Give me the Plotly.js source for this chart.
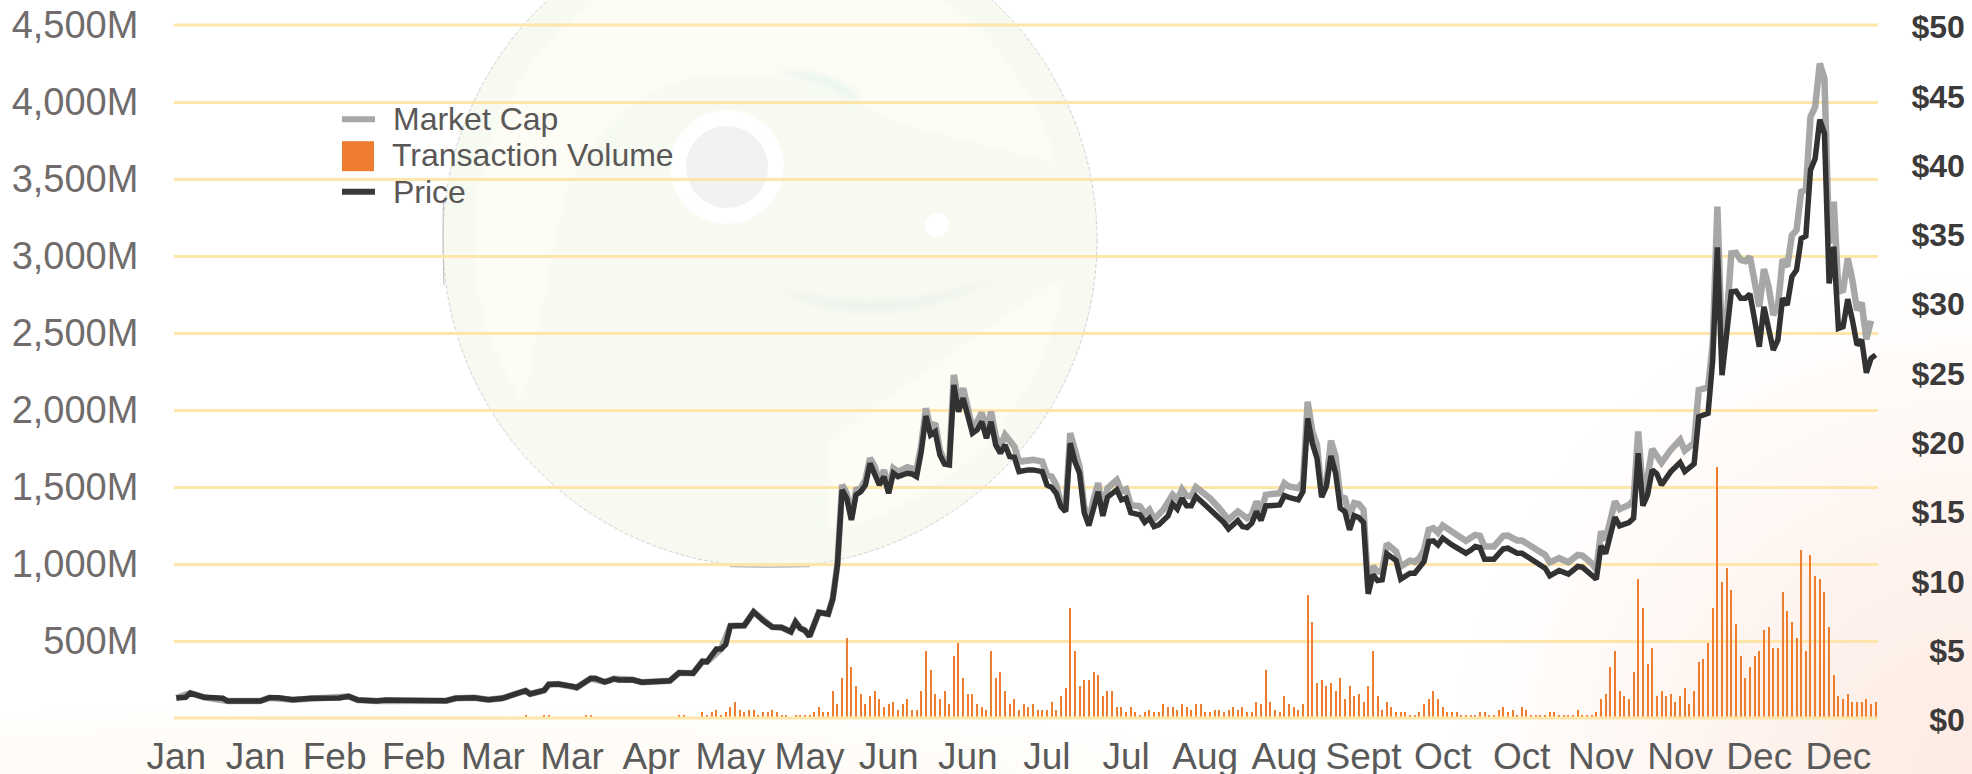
<!DOCTYPE html>
<html>
<head>
<meta charset="utf-8">
<script src="https://cdn.plot.ly/plotly-3.0.1.min.js"></script>
<style>
html,body{margin:0;padding:0;background:#fff;width:1972px;height:774px;overflow:hidden}
#bg{position:absolute;left:0;top:0;width:1972px;height:774px;
background:
 radial-gradient(ellipse 520px 500px at 100% 100%, #fdebe3 0%, #fef1eb 35%, #fff8f4 65%, rgba(255,255,255,0) 100%),
 radial-gradient(ellipse 900px 70px at 20% 100%, #fffbf5 0%, #fffdf9 70%, rgba(255,255,255,0) 100%),
 #fff}
#logo{position:absolute;left:0;top:0}
#chart{position:absolute;left:0;top:0;width:1972px;height:774px}
</style>
</head>
<body>
<div id="bg"></div>
<svg id="logo" width="1972" height="774" viewBox="0 0 1972 774">
 <defs>
  <clipPath id="c"><circle cx="770" cy="240" r="327"/></clipPath>
  <filter id="soft" x="-10%" y="-10%" width="120%" height="120%"><feGaussianBlur stdDeviation="3"/></filter>
  <filter id="soft2" x="-20%" y="-20%" width="140%" height="140%"><feGaussianBlur stdDeviation="1.2"/></filter>
 </defs>
 <circle cx="770" cy="240" r="327" fill="#f6faf0"/>
 <g clip-path="url(#c)">
  <g filter="url(#soft)">
   <circle cx="770" cy="240" r="297" fill="#fdfdf5"/>
   <path d="M523,403 C540,330 550,270 562,210 C585,130 650,78 720,75 C790,72 860,100 900,125 L1100,175 L1100,250 C1000,320 880,400 830,440 L825,570 L540,570 Z" fill="#f6faf0"/>
   <path d="M775,72 C820,66 855,85 862,105 C835,88 805,78 775,72 Z" fill="#eaf5ef"/>
   <path d="M775,285 C830,325 930,320 1000,275 C930,305 840,310 775,285 Z" fill="#eff3ed"/>
  </g>
  <circle cx="727" cy="167" r="57" fill="#fff" filter="url(#soft2)"/>
  <circle cx="727" cy="167" r="41" fill="#f2f2f2"/>
  <circle cx="937" cy="225" r="12" fill="#fff"/>
 </g>
 <circle cx="770" cy="240" r="327" fill="none" stroke="#d2d2d2" stroke-width="1" stroke-dasharray="4 2"/>
 <path d="M730,566.5 Q770,568 810,566.5" fill="none" stroke="#c6c6c6" stroke-width="1.5"/>
 <path d="M443.5,200 Q442.5,240 444,285" fill="none" stroke="#c6c6c6" stroke-width="1.2"/>
</svg>
<div id="chart"></div>
<script>
// ---- axis labels ----
const xTickLabels = ["Jan","Jan","Feb","Feb","Mar","Mar","Apr","May","May","Jun","Jun","Jul","Jul","Aug","Aug","Sept","Oct","Oct","Nov","Nov","Dec","Dec"];
const leftTickValues = [0,500,1000,1500,2000,2500,3000,3500,4000,4500];
const leftTickLabels = ["","500M","1,000M","1,500M","2,000M","2,500M","3,000M","3,500M","4,000M","4,500M"];
const rightTickValues = [0,5,10,15,20,25,30,35,40,45,50];
const rightTickLabels = ["\u2007$0","\u2007$5","$10","$15","$20","$25","$30","$35","$40","$45","$50"];
const dayCount = 366;
const tickEveryDays = 17;

// ---- series: [day index, value] ----
const pricePoints = [[0,1.44],[2,1.49],[3,1.80],[6,1.49],[10,1.42],[11,1.22],[18,1.22],[20,1.46],[22,1.46],[25,1.32],[29,1.42],[35,1.44],[37,1.56],[39,1.30],[43,1.22],[45,1.30],[58,1.25],[60,1.42],[64,1.46],[67,1.32],[70,1.42],[72,1.68],[73,1.75],[75,1.97],[76,1.73],[78,1.94],[79,1.99],[80,2.42],[82,2.45],[85,2.28],[86,2.2],[87,2.42],[89,2.85],[90,2.86],[92,2.6],[93,2.7],[94,2.83],[95,2.75],[96,2.76],[98,2.76],[100,2.58],[106,2.69],[108,3.27],[111,3.23],[113,4.08],[114,4.06],[116,4.97],[117,4.97],[118,5.3],[119,6.65],[122,6.68],[124,7.66],[126,7.04],[128,6.56],[130,6.53],[132,6.22],[133,6.92],[134,6.48],[135,6.32],[136,5.89],[138,7.62],[140,7.5],[141,8.6],[142,11.05],[143,16.46],
[144,15.85],[145,14.29],[146,16.1],[147,16.33],[148,16.8],[149,18.37],[150,17.66],[151,16.81],[152,17.41],[153,16.21],[154,17.66],[155,17.41],[157,17.66],[158,17.61],[159,17.41],[160,19.22],[161,21.79],[162,20.42],[163,20.66],[164,18.98],[165,18.33],[166,18.26],[167,24.03],[168,22.1],[169,23.07],[170,21.74],[171,20.54],[172,20.78],[173,21.38],[174,20.18],[175,21.38],[176,19.7],[177,19.1],[178,19.7],[179,18.86],[180,18.81],[181,17.78],[183,17.9],[184,17.9],[186,17.78],[187,16.81],[188,16.64],[189,16.21],[190,15.25],[191,14.89],[192,19.82],[193,18.5],[194,17.66],[195,14.82],[196,13.88],[197,15.25],[198,16.33],[199,14.58],[200,15.93],[202,16.46],[203,15.74],[204,15.86],[205,14.82],[207,14.65],[208,14.12],[209,14.41],[210,13.81],[211,13.93],[213,14.58],[214,15.44],[215,15.08],[216,15.85],[217,15.32],[218,15.32],[219,15.98],[221,15.37],[222,15.08],[224,14.41],[225,14.1],[226,13.64],[228,14.25],[229,13.81],[230,13.74],[231,14.05],[232,14.89],[233,14.25],[234,15.3],[237,15.37],[238,16.04],[239,15.92],[241,15.74],[242,16.34],[243,21.62],[244,19.82],[245,18.74],[246,15.93],[247,16.7],[248,18.91],[249,17.66],[250,15.13],[251,14.89],[252,13.57],[253,14.6],[254,14.46],[255,14.1],[256,8.96],[257,10.33],[258,9.92],[259,9.97],[260,11.85],[262,11.36],[263,10.02],[265,10.45],[266,10.45],[267,10.81],[268,11.29],[269,12.73],[270,12.78],[271,12.49],[272,12.98],[274,12.49],[275,12.25],[277,11.89],[278,12.1],[279,12.37],[280,12.3],[281,11.46],[283,11.46],[285,12.2],[286,12.25],[288,11.89],[289,11.89],[291,11.41],[293,11.05],[294,10.81],[295,10.26],[297,10.64],[299,10.38],[301,10.93],[302,10.88],[304,10.33],[305,10.02],[306,12.42],[307,11.87],[309,14.49],[310,13.86],[312,14.1],[313,14.41],[314,19.1],[315,15.31],[316,16.1],[317,17.9],[318,17.61],[319,16.82],[321,17.78],[323,18.43],[324,17.78],[326,18.33],[327,21.74],[329,21.98],[330,25.83],[331,33.95],[332,24.74],[333,27.75],[334,30.75],[335,30.8],[336,30.28],[337,30.28],[338,30.59],[339,28.71],[340,26.79],[341,29.67],[342,28],[343,26.55],[344,27.28],[345,30.28],[346,29.8],[347,31.84],[348,32.32],[349,34.6],[350,34.77],[351,39.53],[352,40.37],[353,43.18],[354,42.17],[355,31.36],[356,34],[357,28.11],[358,28.23],[359,30.22],[360,28.71],[361,26.91],[362,27.28],[363,24.91],[364,25.95],[365,26.2]];

const marketCapPoints = [[0,130],[3,162],[6,134],[11,110],[18,110],[20,131],[25,119],[35,130],[37,140],[39,117],[43,110],[58,112],[60,128],[64,131],[67,119],[70,128],[73,157],[75,177],[76,156],[79,179],[80,218],[82,220],[86,198],[87,218],[89,256],[92,234],[94,255],[98,248],[100,232],[106,242],[108,294],[111,291],[113,367],[114,365],[117,447],[119,598],[122,601],[124,689],[126,634],[128,590],[130,588],[132,560],[133,623],[134,583],[135,569],[136,530],[138,686],[140,675],[141,775],[142,1000],[143,1514],
[144,1459],[145,1297],[146,1481],[147,1492],[148,1546],[149,1687],[150,1633],[151,1535],[152,1611],[153,1481],[154,1622],[155,1600],[157,1629],[159,1611],[160,1773],[161,2011],[162,1881],[163,1914],[164,1741],[165,1665],[166,1654],[167,2228],[168,2043],[169,2142],[170,2022],[171,1881],[172,1924],[173,1983],[174,1870],[175,1989],[176,1827],[177,1762],[178,1838],[180,1762],[181,1665],[183,1671],[184,1676],[186,1665],[187,1579],[188,1568],[189,1514],[190,1395],[191,1352],[192,1849],[193,1719],[194,1633],[195,1373],[196,1276],[197,1417],[198,1525],[199,1352],[200,1492],[202,1546],[203,1471],[204,1485],[205,1384],[207,1373],[208,1326],[209,1352],[210,1291],[212,1352],[214,1449],[215,1417],[216,1485],[217,1444],[218,1438],[219,1498],[221,1449],[222,1427],[224,1362],[225,1326],[226,1287],[228,1341],[229,1319],[230,1297],[231,1319],[232,1406],[233,1341],[234,1449],[237,1460],[238,1525],[239,1503],[241,1492],[242,1535],[243,2054],[244,1860],[245,1773],[246,1460],[247,1525],[248,1801],[249,1697],[250,1438],[251,1427],[252,1308],[253,1395],[254,1388],[255,1352],[256,832],[257,984],[258,951],[259,951],[260,1131],[262,1081],[263,984],[265,1023],[266,1014],[267,1038],[268,1092],[269,1222],[270,1233],[271,1204],[272,1250],[274,1207],[275,1185],[277,1150],[278,1170],[279,1189],[280,1183],[281,1114],[283,1114],[285,1183],[286,1185],[288,1153],[289,1153],[291,1114],[293,1085],[294,1059],[295,1010],[297,1038],[299,1012],[301,1059],[302,1055],[304,1005],[305,962],[306,1211],[307,1157],[309,1406],[310,1356],[312,1384],[313,1416],[314,1860],[315,1460],[316,1560],[317,1747],[318,1710],[319,1657],[321,1742],[323,1806],[324,1737],[326,1786],[327,2130],[329,2147],[330,2433],[331,3320],[332,2411],[333,2584],[334,3017],[335,3021],[336,2974],[337,2967],[338,2995],[339,2822],[340,2671],[341,2915],[342,2801],[343,2617],[344,2671],[345,2978],[346,2931],[347,3135],[348,3168],[349,3417],[350,3428],[351,3904],[352,3969],[353,4250],[354,4153],[355,3081],[356,3352],[357,2768],[358,2779],[359,2984],[360,2844],[361,2649],[362,2697],[363,2459],[364,2579]];

const volumeEarlyPoints = [[75,22],[79,22],[80,22],[88,22],[89,22],[108,22],[109,22]];
const volumeFirstDay = 113;
const volumeValues = [41,22,41,54,22,41,74,106,54,41,54,54,22,41,41,54,41,22,22,0,22,22,22,22,41,74,41,41,177,93,262,521,333,210,158,93,145,177,125,74,93,106,54,93,125,54,54,177,437,313,158,125,177,93,404,489,262,158,158,93,74,54,437,262,300,177,93,125,54,93,74,93,54,54,54,106,54,145,197,716,437,210,249,249,300,281,145,177,177,74,74,41,74,41,22,41,54,41,41,93,74,74,54,
93,74,54,93,93,41,41,54,54,41,54,74,54,74,41,41,106,93,313,106,54,41,145,93,74,54,93,800,625,229,249,210,229,177,262,125,210,145,158,106,210,437,145,54,106,74,41,41,41,22,22,41,93,125,177,125,74,41,41,41,22,22,22,22,41,41,22,22,54,74,41,54,22,74,54,22,22,22,22,41,41,22,22,22,22,54,22,22,22,41,125,158,333,437,177,145,125,300,904,716,352,456,145,177,145,158,106,145,197,
93,177,365,385,489,716,1630,884,975,832,612,404,262,333,404,437,573,592,456,456,819,696,625,521,1092,437,1059,923,904,819,592,281,145,125,158,106,106,106,125,93,106];

// ---- styles ----
const gridColor = "#fee6aa";
const priceColor = "#333232";
const capColor = "rgba(160,160,160,0.92)";
const barColor = "#ef7d30";

const tickDays = xTickLabels.map((_, i) => i * tickEveryDays);
const volumeDays = volumeEarlyPoints.map(p => p[0]).concat(volumeValues.map((_, i) => volumeFirstDay + i));
const volumeAll = volumeEarlyPoints.map(p => p[1]).concat(volumeValues);

const traces = [
  {type:"scatter",mode:"lines",name:"Market Cap",x:marketCapPoints.map(p=>p[0]),y:marketCapPoints.map(p=>p[1]),
   line:{color:capColor,width:6.5,shape:"linear"},xaxis:"x",yaxis:"y"},
  {type:"bar",name:"Transaction Volume",x:volumeDays,y:volumeAll,width:0.43,marker:{color:barColor,line:{width:0}},xaxis:"x",yaxis:"y"},
  {type:"scatter",mode:"lines",name:"Price",x:pricePoints.map(p=>p[0]),y:pricePoints.map(p=>p[1]),
   line:{color:priceColor,width:5.5,shape:"linear"},xaxis:"x",yaxis:"y2"}
];

const L=174,R=1878,T=24.7,B=718.3,W=1972,H=774;
const px = v => (v-L)/(R-L);
const py = v => (B-v)/(B-T);
const legendText = "#5a5757";
function legendLabel(text,x,y){return {text,xref:"paper",yref:"paper",x:px(x),y:py(y),xanchor:"left",yanchor:"middle",showarrow:false,font:{family:"Liberation Sans, Arial, sans-serif",size:32,color:legendText}};}

const layout = {
  width:W,height:H,
  margin:{l:L,r:W-R,t:T,b:H-B,pad:0},
  paper_bgcolor:"rgba(0,0,0,0)",plot_bgcolor:"rgba(0,0,0,0)",
  showlegend:false,bargap:0,hovermode:false,
  xaxis:{range:[-0.5,dayCount-0.5],tickmode:"array",tickvals:tickDays,ticktext:xTickLabels,showgrid:false,zeroline:false,showline:false,
    ticks:"outside",ticklen:6,tickcolor:"rgba(0,0,0,0)",tickangle:0,
    tickfont:{family:"Liberation Sans, Arial, sans-serif",size:37,color:"#5a5a5a"}},
  yaxis:{range:[0,4500],tickmode:"array",tickvals:leftTickValues,ticktext:leftTickLabels,showgrid:true,gridcolor:gridColor,gridwidth:3,zeroline:false,showline:false,
    ticks:"outside",ticklen:27,tickcolor:"rgba(0,0,0,0)",
    tickfont:{family:"Liberation Sans, Arial, sans-serif",size:38,color:"#706c6c"}},
  yaxis2:{range:[0,50],overlaying:"y",side:"right",anchor:"x",tickmode:"array",tickvals:rightTickValues,ticktext:rightTickLabels,showgrid:false,zeroline:false,showline:false,
    ticks:"outside",ticklen:26,tickcolor:"rgba(0,0,0,0)",ticklabelshift:2,
    tickfont:{family:"Liberation Sans, Arial, sans-serif",size:32,color:"#3c3a3a",weight:700}},
  shapes:[
    {type:"line",xref:"paper",yref:"paper",x0:0,x1:1,y0:1,y1:1,line:{color:gridColor,width:3},layer:"below"},
    {type:"line",xref:"paper",yref:"paper",x0:0,x1:1,y0:0,y1:0,line:{color:gridColor,width:3},layer:"above"},
    {type:"line",xref:"paper",yref:"paper",x0:px(342),x1:px(375),y0:py(119),y1:py(119),line:{color:"#a8a8a8",width:6}},
    {type:"rect",xref:"paper",yref:"paper",x0:px(342),x1:px(374),y0:py(141),y1:py(171),fillcolor:"#ee7d31",line:{width:0}},
    {type:"line",xref:"paper",yref:"paper",x0:px(342),x1:px(375),y0:py(191.5),y1:py(191.5),line:{color:"#3a3a3a",width:6}}
  ],
  annotations:[legendLabel("Market Cap",391,119),legendLabel("Transaction Volume",390,155),legendLabel("Price",391,192)]
};
Plotly.newPlot("chart",traces,layout,{displayModeBar:false,staticPlot:true});
</script>
</body>
</html>
